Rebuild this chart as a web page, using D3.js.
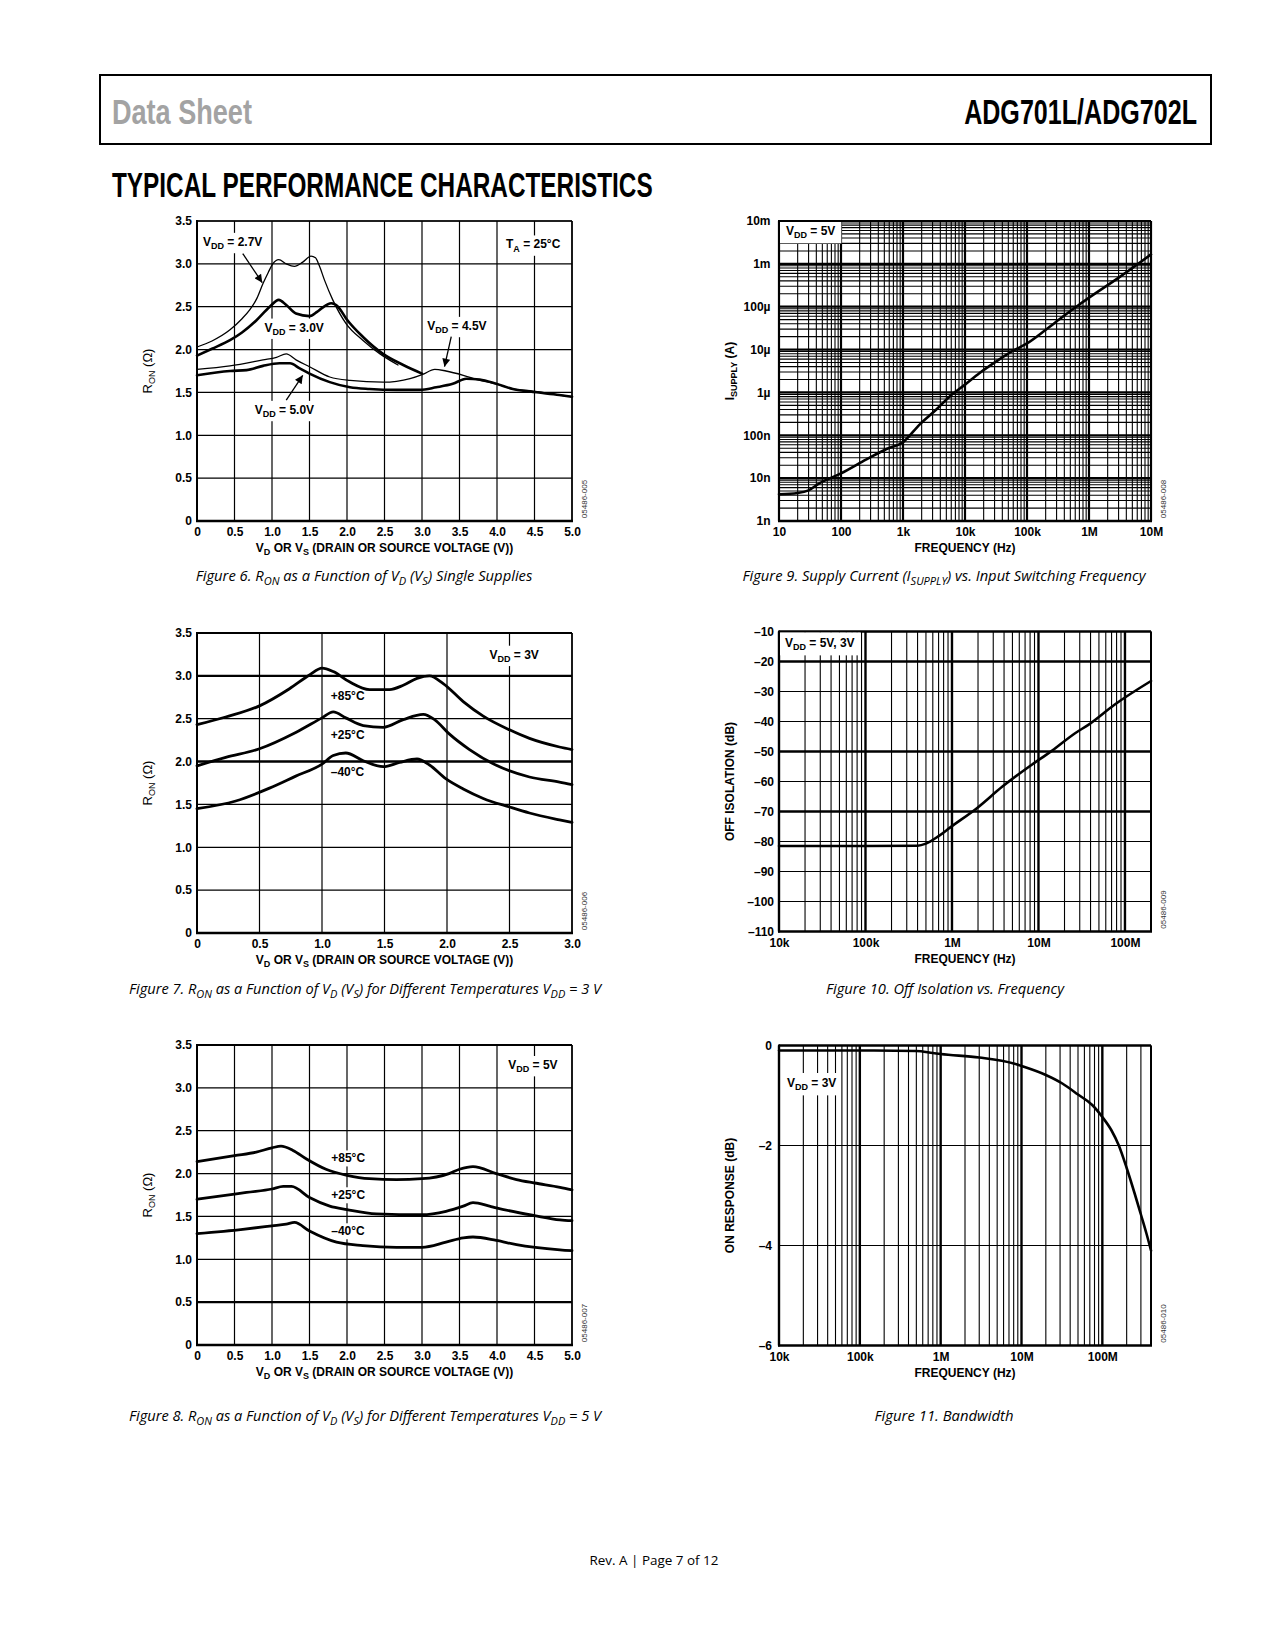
<!DOCTYPE html>
<html><head><meta charset="utf-8">
<script src="https://cdn.jsdelivr.net/npm/d3@7"></script>
<style>
body{margin:0;background:#fff;}
svg{display:block;}
.ax text{font-family:"Liberation Sans",Arial,sans-serif;font-weight:bold;font-size:12px;fill:#000;}
.lbl{font-family:"Liberation Sans",Arial,sans-serif;font-weight:bold;font-size:12px;fill:#000;}
.cap{font-family:"Open Sans","Noto Sans",sans-serif;font-style:italic;font-size:14px;fill:#000;}
.hdr{font-family:"Liberation Sans Narrow","Liberation Sans",sans-serif;font-weight:bold;font-size:36px;}
.code{font-family:"Liberation Sans",Arial,sans-serif;font-size:8px;fill:#333;}
</style></head><body>
<script>
// ---------- DATA ----------
const rTicks = [0,0.5,1,1.5,2,2.5,3,3.5];
const rTickLabels = ["0","0.5","1.0","1.5","2.0","2.5","3.0","3.5"];
const v5Ticks = [0,0.5,1,1.5,2,2.5,3,3.5,4,4.5,5];
const v5TickLabels = ["0","0.5","1.0","1.5","2.0","2.5","3.0","3.5","4.0","4.5","5.0"];
const v3Ticks = [0,0.5,1,1.5,2,2.5,3];
const v3TickLabels = ["0","0.5","1.0","1.5","2.0","2.5","3.0"];

// Figure 6 (R_ON vs V_D, single supplies, TA = 25C)
const ron27 = [[0,2.03],[0.2,2.1],[0.44,2.23],[0.6,2.36],[0.7,2.46],[0.8,2.6],[0.88,2.77],[0.95,2.9],[1.01,3.0],[1.09,3.05],[1.19,3.0],[1.3,2.97],[1.41,3.02],[1.52,3.09],[1.58,3.07],[1.63,2.98],[1.7,2.81],[1.81,2.58],[1.99,2.3],[2.21,2.11],[2.44,1.95],[2.68,1.82]];
const ron30 = [[0,1.93],[0.2,2.01],[0.44,2.11],[0.6,2.2],[0.79,2.34],[0.97,2.5],[1.09,2.58],[1.19,2.52],[1.32,2.42],[1.5,2.39],[1.6,2.44],[1.66,2.48],[1.79,2.54],[1.88,2.5],[1.99,2.36],[2.21,2.15],[2.48,1.95],[2.75,1.82],[3.0,1.72]];
const ron45 = [[0,1.77],[0.44,1.81],[0.88,1.88],[1.06,1.91],[1.19,1.95],[1.32,1.88],[1.5,1.8],[1.77,1.68],[2.04,1.64],[2.48,1.62],[2.66,1.63],[2.84,1.66],[3.01,1.71],[3.17,1.77],[3.32,1.75],[3.55,1.7],[3.77,1.64],[3.99,1.6],[4.21,1.54],[4.44,1.52],[4.83,1.47],[5.0,1.45]];
const ron50 = [[0,1.7],[0.44,1.75],[0.66,1.76],[0.88,1.81],[1.1,1.84],[1.24,1.84],[1.37,1.78],[1.5,1.72],[1.77,1.62],[2.04,1.56],[2.3,1.54],[2.66,1.53],[2.97,1.53],[3.19,1.56],[3.41,1.6],[3.59,1.66],[3.77,1.65],[3.99,1.6],[4.21,1.54],[4.44,1.51],[4.83,1.47],[5.0,1.45]];

// Figure 7 (VDD = 3 V, temperatures)
const ron3v85 = [[0,2.43],[0.23,2.52],[0.5,2.65],[0.74,2.85],[0.9,3.01],[1.0,3.09],[1.09,3.05],[1.22,2.93],[1.38,2.84],[1.54,2.84],[1.65,2.89],[1.76,2.97],[1.86,3.0],[1.97,2.91],[2.13,2.7],[2.29,2.53],[2.5,2.37],[2.66,2.27],[2.9,2.17],[3.0,2.14]];
const ron3v25 = [[0,1.95],[0.23,2.05],[0.5,2.15],[0.79,2.34],[1.0,2.51],[1.09,2.58],[1.19,2.51],[1.33,2.42],[1.49,2.4],[1.65,2.49],[1.81,2.55],[1.9,2.49],[2.02,2.32],[2.18,2.14],[2.39,1.96],[2.66,1.82],[2.9,1.76],[3.0,1.73]];
const ron3vm40 = [[0,1.45],[0.31,1.54],[0.58,1.69],[0.79,1.83],[1.0,1.97],[1.09,2.07],[1.19,2.1],[1.33,2.01],[1.49,1.94],[1.62,1.99],[1.76,2.03],[1.86,1.96],[1.99,1.8],[2.13,1.68],[2.29,1.57],[2.5,1.47],[2.66,1.4],[2.9,1.32],[3.0,1.29]];

// Figure 8 (VDD = 5 V, temperatures)
const ron5v85 = [[0,2.14],[0.5,2.21],[0.79,2.25],[1.0,2.3],[1.12,2.32],[1.28,2.27],[1.46,2.17],[1.72,2.05],[2.0,1.98],[2.3,1.94],[2.66,1.93],[3.0,1.94],[3.36,2.0],[3.5,2.05],[3.68,2.08],[3.99,2.0],[4.26,1.93],[4.5,1.89],[4.84,1.84],[5.0,1.81]];
const ron5v25 = [[0,1.7],[0.5,1.76],[0.66,1.78],[1.0,1.82],[1.15,1.85],[1.26,1.85],[1.5,1.72],[1.77,1.62],[2.0,1.58],[2.39,1.53],[3.0,1.52],[3.32,1.56],[3.55,1.62],[3.68,1.66],[3.9,1.62],[3.99,1.6],[4.5,1.51],[4.84,1.46],[5.0,1.45]];
const ron5vm40 = [[0,1.3],[0.61,1.35],[1.0,1.39],[1.19,1.41],[1.3,1.43],[1.5,1.33],[1.86,1.2],[2.21,1.16],[2.66,1.14],[3.0,1.14],[3.32,1.2],[3.55,1.25],[3.68,1.26],[3.99,1.22],[4.26,1.17],[4.84,1.11],[5.0,1.1]];

// Figure 9 (supply current vs frequency)
const f9Ticks = [10,100,1e3,1e4,1e5,1e6,1e7];
const f9Labels = ["10","100","1k","10k","100k","1M","10M"];
const iTicks = [1e-9,1e-8,1e-7,1e-6,1e-5,1e-4,1e-3,1e-2];
const iLabels = ["1n","10n","100n","1\u00b5","10\u00b5","100\u00b5","1m","10m"];
const isupply = [[10,4.2e-9],[20,4.5e-9],[30,5.2e-9],[45,7.6e-9],[100,1.29e-8],[257,2.74e-8],[542,4.8e-8],[1000,6.9e-8],[1850,1.78e-7],[3450,4.0e-7],[6300,9.2e-7],[9900,1.5e-6],[17000,2.8e-6],[32000,5.3e-6],[59000,9.3e-6],[1e5,1.39e-5],[2.04e5,2.95e-5],[3.8e5,5.9e-5],[7e5,1.13e-4],[1e6,1.62e-4],[3.1e6,4.9e-4],[1e7,1.66e-3]];

// Figure 10 (off isolation)
const fTicks = [1e4,1e5,1e6,1e7,1e8];
const fLabels = ["10k","100k","1M","10M","100M"];
const isoTicks = [-10,-20,-30,-40,-50,-60,-70,-80,-90,-100,-110];
const isoLabels = ["\u201310","\u201320","\u201330","\u201340","\u201350","\u201360","\u201370","\u201380","\u201390","\u2013100","\u2013110"];
const offIso = [[1e4,-81.5],[1e5,-81.5],[4e5,-81.4],[5e5,-80.7],[7e5,-78.2],[9.66e5,-75.2],[1.94e6,-68.9],[3.83e6,-61.7],[7.83e6,-55],[1.44e7,-49.7],[2.65e7,-43.9],[3.77e7,-41.1],[7.56e7,-34.4],[2e8,-26.5]];

// Figure 11 (bandwidth)
const onTicks = [0,-2,-4,-6];
const onLabels = ["0","\u20132","\u20134","\u20136"];
const onResp = [[1e4,-0.1],[1e5,-0.1],[5e5,-0.11],[8e5,-0.15],[1e6,-0.17],[3e6,-0.24],[8e6,-0.36],[1e7,-0.41],[2e7,-0.59],[3.2e7,-0.76],[5e7,-0.98],[7.5e7,-1.19],[1e8,-1.43],[1.3e8,-1.7],[1.6e8,-2.0],[2e8,-2.45],[2.5e8,-2.95],[3e8,-3.38],[3.5e8,-3.75],[4e8,-4.1]];

// ---------- DRAWING ----------
const svg = d3.select("body").append("svg").attr("width",1275).attr("height",1650);
svg.append("defs").append("marker").attr("id","arr").attr("viewBox","0 0 10 10")
  .attr("refX",10).attr("refY",5).attr("markerWidth",10).attr("markerHeight",8)
  .attr("markerUnits","userSpaceOnUse").attr("orient","auto")
  .append("path").attr("d","M0,0 L10,5 L0,10 z").attr("fill","#000");

function fitW(t, w){
  const bb = t.node().getBBox(); const x = +t.attr("x");
  t.attr("transform",`translate(${x},0) scale(${w/bb.width},1) translate(${-x},0)`);
}
function rich(parent, x, y, str, cls, fs, anchor){
  const t = parent.append("text").attr("class",cls).attr("x",x).attr("y",y).attr("text-anchor",anchor||"start");
  const re=/_\{([^}]*)\}/g; let last=0,m; const pieces=[];
  while((m=re.exec(str))){ if(m.index>last) pieces.push([str.slice(last,m.index),false]); pieces.push([m[1],true]); last=re.lastIndex; }
  if(last<str.length) pieces.push([str.slice(last),false]);
  let down=false;
  pieces.forEach(([s,sub])=>{
    const ts=t.append("tspan").text(s);
    if(sub){ ts.attr("font-size",(fs*0.75)+"px"); if(!down){ ts.attr("dy",fs*0.28); down=true; } }
    else if(down){ ts.attr("dy",-fs*0.28); down=false; }
  });
  return t;
}
function boxLabel(g, x, y, str, padX, padY){
  const t = rich(g, x, y, str, "lbl", 12);
  const bb = t.node().getBBox();
  g.insert("rect", function(){return t.node();}).attr("x",bb.x-padX).attr("y",bb.y-padY)
    .attr("width",bb.width+2*padX).attr("height",bb.height+2*padY).attr("fill","#fff");
  return t;
}

function chart(c){
  const g = svg.append("g");
  const x = c.x.range([c.L,c.R]), y = c.y.range([c.B,c.T]);
  c.xGrid.forEach(v=>g.append("line").attr("x1",x(v)).attr("x2",x(v)).attr("y1",c.T).attr("y2",c.B)
      .attr("stroke","#000").attr("stroke-width",c.xGW(v)));
  c.yGrid.forEach(v=>g.append("line").attr("x1",c.L).attr("x2",c.R).attr("y1",y(v)).attr("y2",y(v))
      .attr("stroke","#000").attr("stroke-width",c.yGW(v)));
  const fr=c.frame;
  g.append("line").attr("x1",c.L).attr("x2",c.R).attr("y1",c.T).attr("y2",c.T).attr("stroke","#000").attr("stroke-width",fr[0]);
  g.append("line").attr("x1",c.R).attr("x2",c.R).attr("y1",c.T).attr("y2",c.B).attr("stroke","#000").attr("stroke-width",fr[1]);
  g.append("line").attr("x1",c.L-1).attr("x2",c.R+1).attr("y1",c.B).attr("y2",c.B).attr("stroke","#000").attr("stroke-width",fr[2]);
  g.append("line").attr("x1",c.L).attr("x2",c.L).attr("y1",c.T-1).attr("y2",c.B+1).attr("stroke","#000").attr("stroke-width",fr[3]);
  g.append("g").attr("class","ax").attr("transform",`translate(0,${c.B})`)
    .call(d3.axisBottom(x).tickValues(c.xTicks).tickFormat((d,i)=>c.xLabels[i]).tickSize(0).tickPadding(6.5))
    .call(s=>s.select(".domain").remove());
  g.append("g").attr("class","ax").attr("transform",`translate(${c.L},0)`)
    .call(d3.axisLeft(y).tickValues(c.yTicks).tickFormat((d,i)=>c.yLabels[i]).tickSize(0).tickPadding(c.yPad))
    .call(s=>s.select(".domain").remove());
  rich(g, (c.L+c.R)/2, c.B+31, c.xTitle, "lbl", 12, "middle");
  const yg = g.append("g").attr("transform",`translate(${c.L-45},${(c.T+c.B)/2}) rotate(-90)`);
  const yt = rich(yg, 0, 0, c.yTitle, "lbl", 12, "middle");
  if(c.yTitleNormal) yt.style("font-weight","normal").style("font-size","13px");
  g.append("text").attr("class","code").attr("transform",`translate(${c.R+15},${c.B-22}) rotate(-90)`)
    .attr("text-anchor","middle").text(c.code);
  if(c.pre) c.pre(g,x,y);
  c.series.forEach(s=>{
    g.append("path").datum(s.data).attr("fill","none").attr("stroke","#000").attr("stroke-width",s.w)
      .attr("stroke-linejoin","round").attr("stroke-linecap","round")
      .attr("d", d3.line().x(d=>x(d[0])).y(d=>y(d[1])).curve(d3.curveMonotoneX));
  });
  if(c.post) c.post(g,x,y);
  const cap = rich(svg, c.capX, c.capY, c.caption, "cap", 14, "middle");
  fitW(cap, c.capW);
  return g;
}

const rGrid = rTicks;
const thin = ()=>1.2;
function logGrid(a,b){ const out=[]; for(let d=a; d<b*1.0001; d*=10){ for(let m=1;m<10;m++){ const v=d*m; if(v<=b*1.0001) out.push(v);} } return out; }
const isMajor = v=>Math.abs(Math.log10(v)-Math.round(Math.log10(v)))<1e-6;

// Figure 6
chart({L:197,R:572,T:221,B:521, x:d3.scaleLinear().domain([0,5]), y:d3.scaleLinear().domain([0,3.5]),
  xGrid:v5Ticks, yGrid:rGrid, xGW:thin, yGW:thin, frame:[1.5,1.5,2.5,2],
  xTicks:v5Ticks, xLabels:v5TickLabels, yTicks:rTicks, yLabels:rTickLabels, yPad:5,
  xTitle:"V_{D} OR V_{S} (DRAIN OR SOURCE VOLTAGE (V))", yTitle:"R_{ON} (\u03a9)", yTitleNormal:true, code:"05486-005",
  pre:(g,x,y)=>{
    boxLabel(g, x(0.08), y(3.21), "V_{DD} = 2.7V", 3, 2);
    boxLabel(g, x(4.12), y(3.18), "T_{A} = 25\u00b0C", 3, 2);
    boxLabel(g, x(0.9), y(2.21), "V_{DD} = 3.0V", 3, 2);
    boxLabel(g, x(3.07), y(2.23), "V_{DD} = 4.5V", 3, 2);
    boxLabel(g, x(0.77), y(1.25), "V_{DD} = 5.0V", 3, 2);
  },
  series:[{data:ron27,w:1.3},{data:ron30,w:2.6},{data:ron45,w:1.3},{data:ron50,w:2.6}],
  post:(g,x,y)=>{
    [[[0.61,3.12],[0.87,2.78]],[[3.39,2.15],[3.3,1.8]],[[1.19,1.41],[1.41,1.7]]].forEach(a=>{
      g.append("line").attr("x1",x(a[0][0])).attr("y1",y(a[0][1])).attr("x2",x(a[1][0])).attr("y2",y(a[1][1]))
        .attr("stroke","#000").attr("stroke-width",1.3).attr("marker-end","url(#arr)");
    });
  },
  caption:"Figure 6. R_{ON} as a Function of V_{D} (V_{S}) Single Supplies", capX:364, capY:581, capW:337});

// Figure 7
chart({L:197,R:572,T:633,B:933, x:d3.scaleLinear().domain([0,3]), y:d3.scaleLinear().domain([0,3.5]),
  xGrid:v3Ticks, yGrid:rGrid, xGW:thin, yGW:v=>(v===2||v===3)?2.4:1.2, frame:[2.2,1.5,2.5,2],
  xTicks:v3Ticks, xLabels:v3TickLabels, yTicks:rTicks, yLabels:rTickLabels, yPad:5,
  xTitle:"V_{D} OR V_{S} (DRAIN OR SOURCE VOLTAGE (V))", yTitle:"R_{ON} (\u03a9)", yTitleNormal:true, code:"05486-006",
  pre:(g,x,y)=>{
    boxLabel(g, x(2.34), y(3.2), "V_{DD} = 3V", 3, 2);
    g.append("text").attr("class","lbl").attr("x",x(1.07)).attr("y",y(2.72)).text("+85\u00b0C");
    g.append("text").attr("class","lbl").attr("x",x(1.07)).attr("y",y(2.26)).text("+25\u00b0C");
    g.append("text").attr("class","lbl").attr("x",x(1.07)).attr("y",y(1.83)).text("\u201340\u00b0C");
  },
  series:[{data:ron3v85,w:2.8},{data:ron3v25,w:2.8},{data:ron3vm40,w:2.8}],
  caption:"Figure 7. R_{ON} as a Function of V_{D} (V_{S}) for Different Temperatures V_{DD} = 3 V", capX:365, capY:994, capW:474});

// Figure 8
chart({L:197,R:572,T:1045,B:1345, x:d3.scaleLinear().domain([0,5]), y:d3.scaleLinear().domain([0,3.5]),
  xGrid:v5Ticks, yGrid:rGrid, xGW:thin, yGW:v=>(v===0.5)?2.4:1.2, frame:[2.2,1.5,2.5,2],
  xTicks:v5Ticks, xLabels:v5TickLabels, yTicks:rTicks, yLabels:rTickLabels, yPad:5,
  xTitle:"V_{D} OR V_{S} (DRAIN OR SOURCE VOLTAGE (V))", yTitle:"R_{ON} (\u03a9)", yTitleNormal:true, code:"05486-007",
  pre:(g,x,y)=>{
    boxLabel(g, x(4.15), y(3.22), "V_{DD} = 5V", 3, 2);
    boxLabel(g, x(1.79), y(2.13), "+85\u00b0C", 2, 1);
    boxLabel(g, x(1.79), y(1.70), "+25\u00b0C", 2, 1);
    boxLabel(g, x(1.79), y(1.28), "\u201340\u00b0C", 2, 1);
  },
  series:[{data:ron5v85,w:2.8},{data:ron5v25,w:2.8},{data:ron5vm40,w:2.8}],
  caption:"Figure 8. R_{ON} as a Function of V_{D} (V_{S}) for Different Temperatures V_{DD} = 5 V", capX:365, capY:1421, capW:474});

// Figure 9
function cornerBox(g, L, T, x0, y0, str){
  const t = rich(g, x0, y0, str, "lbl", 12);
  const bb = t.node().getBBox();
  g.insert("rect", function(){return t.node();}).attr("x",L+1).attr("y",T+1)
    .attr("width",bb.x+bb.width+6-L-1).attr("height",bb.y+bb.height+3-T-1).attr("fill","#fff");
}
chart({L:779,R:1151,T:221,B:521, x:d3.scaleLog().domain([10,1e7]), y:d3.scaleLog().domain([1e-9,1e-2]),
  xGrid:logGrid(10,1e7), yGrid:logGrid(1e-9,1e-2), xGW:v=>isMajor(v)?2.2:1.1, yGW:v=>isMajor(v)?2.2:1.1, frame:[2.2,2,2.5,2],
  xTicks:f9Ticks, xLabels:f9Labels, yTicks:iTicks, yLabels:iLabels, yPad:8.5,
  xTitle:"FREQUENCY (Hz)", yTitle:"I_{SUPPLY} (A)", code:"05486-008",
  pre:(g,x,y)=>cornerBox(g,779,221,786,235,"V_{DD} = 5V"),
  series:[{data:isupply,w:2.6}],
  caption:"Figure 9. Supply Current (I_{SUPPLY}) vs. Input Switching Frequency", capX:944, capY:581, capW:405});

// Figure 10
chart({L:779,R:1151,T:631.5,B:931.5, x:d3.scaleLog().domain([1e4,2e8]), y:d3.scaleLinear().domain([-110,-10]),
  xGrid:logGrid(1e4,2e8), yGrid:isoTicks, xGW:v=>isMajor(v)?2.4:1.1, yGW:v=>(v===-20||v===-50||v===-70)?2.4:1.2, frame:[2.4,2,2.5,2],
  xTicks:fTicks, xLabels:fLabels, yTicks:isoTicks, yLabels:isoLabels, yPad:5,
  xTitle:"FREQUENCY (Hz)", yTitle:"OFF ISOLATION (dB)", code:"05486-009",
  pre:(g,x,y)=>cornerBox(g,779,631.5,785,647,"V_{DD} = 5V, 3V"),
  series:[{data:offIso,w:2.6}],
  caption:"Figure 10. Off Isolation vs. Frequency", capX:945, capY:994, capW:240});

// Figure 11
chart({L:779,R:1151,T:1045.5,B:1345.5, x:d3.scaleLog().domain([1e4,4e8]), y:d3.scaleLinear().domain([-6,0]),
  xGrid:logGrid(1e4,4e8), yGrid:onTicks, xGW:v=>isMajor(v)?2.4:1.1, yGW:()=>1.2, frame:[2.4,2,2.5,2],
  xTicks:fTicks, xLabels:fLabels, yTicks:onTicks, yLabels:onLabels, yPad:7,
  xTitle:"FREQUENCY (Hz)", yTitle:"ON RESPONSE (dB)", code:"05486-010",
  pre:(g,x,y)=>boxLabel(g,787,1087,"V_{DD} = 3V",4,3),
  series:[{data:onResp,w:2.6}],
  caption:"Figure 11. Bandwidth", capX:944, capY:1421, capW:139});

// ---------- HEADER / FOOTER ----------
svg.append("rect").attr("x",100).attr("y",75).attr("width",1111).attr("height",69)
  .attr("fill","none").attr("stroke","#000").attr("stroke-width",2);
const ds = svg.append("text").attr("class","hdr").attr("x",112).attr("y",124).attr("fill","#a3a3a3").text("Data Sheet");
fitW(ds,140);
const pn = svg.append("text").attr("class","hdr").attr("x",1197).attr("y",124).attr("text-anchor","end").attr("fill","#000").text("ADG701L/ADG702L");
fitW(pn,233);
const tp = svg.append("text").attr("class","hdr").attr("x",112).attr("y",197.5).attr("fill","#000").text("TYPICAL PERFORMANCE CHARACTERISTICS");
fitW(tp,541);
const ft = svg.append("text").attr("x",654).attr("y",1565).attr("text-anchor","middle")
  .style("font-family","'Open Sans','Noto Sans',sans-serif").style("font-size","13px").text("Rev. A | Page 7 of 12");
fitW(ft,129);
</script>
</body></html>
